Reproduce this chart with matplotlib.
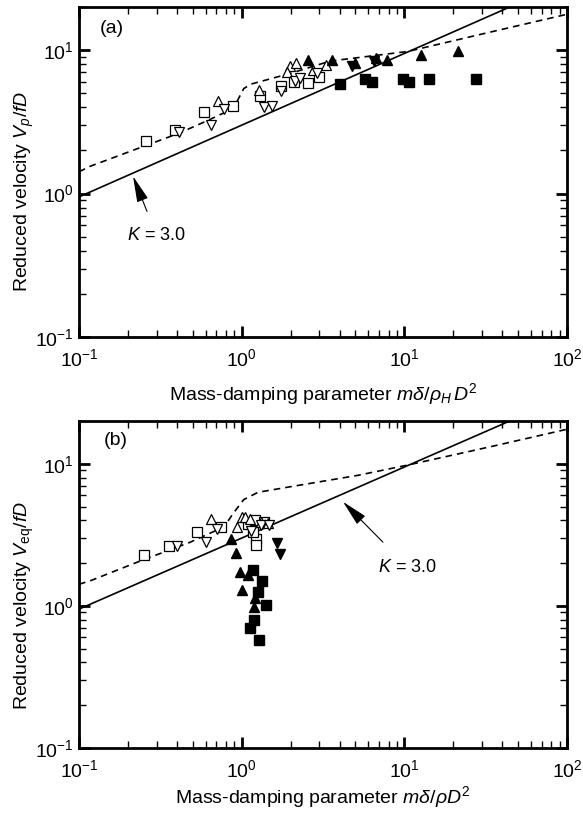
import matplotlib.pyplot as plt
import numpy as np

plt.rcParams['font.family'] = ['Liberation Sans', 'DejaVu Sans']
plt.rcParams['mathtext.fontset'] = 'custom'
plt.rcParams['mathtext.rm'] = 'Liberation Sans'
plt.rcParams['mathtext.it'] = 'Liberation Sans:italic'
plt.rcParams['axes.unicode_minus'] = False

# dashed curve (same shape in both panels)
dash_x_a = [0.1, 0.117, 0.248, 0.41, 0.62, 0.89, 1.03, 1.14, 2.0, 3.5, 10.5, 35, 100]
dash_y_a = [1.42, 1.55, 2.13, 2.63, 3.24, 3.93, 5.4, 5.8, 6.9, 8.4, 9.8, 13.5, 17.8]
dash_x_b = [0.1, 0.117, 0.238, 0.48, 0.78, 0.89, 1.03, 1.26, 2.0, 5.2, 10.5, 35, 100]
dash_y_b = [1.42, 1.5, 2.07, 2.8, 3.6, 4.5, 5.6, 6.3, 6.9, 8.3, 9.8, 13.3, 17.5]

K = 3.0

# panel (a) data
a_osq_x = [0.26, 0.39, 0.59, 0.88, 1.29, 1.74, 2.09, 2.55, 3.0]
a_osq_y = [2.31, 2.76, 3.68, 4.1, 4.8, 5.6, 5.97, 5.9, 6.5]
a_otu_x = [0.72, 1.27, 1.98, 2.15, 1.91, 2.76, 3.3]
a_otu_y = [4.4, 5.25, 7.7, 8.2, 7.1, 7.25, 7.9]
a_otd_x = [0.41, 0.65, 0.78, 1.37, 1.53, 1.74, 2.12, 2.29, 2.9]
a_otd_y = [2.7, 3.0, 3.9, 4.0, 4.1, 5.2, 6.1, 6.4, 6.9]
a_ftu_x = [2.55, 3.6, 5.0, 6.7, 7.8, 12.7, 21.4]
a_ftu_y = [8.5, 8.5, 8.1, 8.8, 8.5, 9.2, 9.8]
a_ftd_x = [4.8, 6.5]
a_ftd_y = [7.7, 8.4]
a_fsq_x = [4.0, 5.75, 6.3, 9.8, 10.7, 14.1, 27.6]
a_fsq_y = [5.8, 6.3, 6.0, 6.3, 6.0, 6.3, 6.3]

# panel (b) data
b_osq_x = [0.25, 0.36, 0.53, 0.75, 1.10, 1.2, 1.37, 1.22, 1.22, 1.17]
b_osq_y = [2.27, 2.63, 3.3, 3.6, 3.75, 4.0, 3.9, 2.94, 2.7, 3.3]
b_otu_x = [0.65, 0.94, 1.0, 1.05, 1.12, 1.31, 1.45]
b_otu_y = [4.06, 3.6, 4.2, 4.2, 4.1, 3.9, 3.85]
b_otd_x = [0.40, 0.60, 0.71, 1.14, 1.31, 1.48]
b_otd_y = [2.63, 2.8, 3.5, 3.35, 3.7, 3.7]
b_ftu_x = [0.86, 0.92, 0.97, 1.09, 1.01, 1.2, 1.19]
b_ftu_y = [2.94, 2.35, 1.73, 1.65, 1.29, 1.14, 0.98]
b_ftd_x = [1.64, 1.72]
b_ftd_y = [2.76, 2.3]
b_fsq_x = [1.17, 1.33, 1.26, 1.41, 1.19, 1.12, 1.27]
b_fsq_y = [1.78, 1.5, 1.25, 1.02, 0.80, 0.70, 0.58]

fig = plt.figure(figsize=(5.83, 8.18), dpi=100)
ax1 = fig.add_axes([0.1355, 0.588, 0.837, 0.4034])
ax2 = fig.add_axes([0.1355, 0.0856, 0.837, 0.3997])


def draw(ax, dx, dy, osq, otu, otd, ftu, ftd, fsq):
    kx = np.logspace(-1, 2, 200)
    ax.plot(kx, K * np.sqrt(kx), color='black', lw=1.2, zorder=2)
    ax.plot(dx, dy, color='black', lw=1.2, ls=(0, (4, 3)), zorder=2)
    ms = 6.5
    ax.plot(*osq, ls='none', marker='s', ms=ms, mfc='white', mec='black', mew=0.9, zorder=3)
    ax.plot(*otu, ls='none', marker='^', ms=ms, mfc='white', mec='black', mew=0.9, zorder=3)
    ax.plot(*otd, ls='none', marker='v', ms=ms, mfc='white', mec='black', mew=0.9, zorder=3)
    ax.plot(*ftu, ls='none', marker='^', ms=ms, mfc='black', mec='black', zorder=4)
    ax.plot(*ftd, ls='none', marker='v', ms=ms, mfc='black', mec='black', zorder=4)
    ax.plot(*fsq, ls='none', marker='s', ms=ms, mfc='black', mec='black', zorder=4)
    ax.set_xscale('log')
    ax.set_yscale('log')
    ax.set_xlim(0.1, 100)
    ax.set_ylim(0.1, 20)
    ax.tick_params(which='both', direction='in', top=True, right=True, labelsize=14)
    ax.tick_params(which='major', length=8, width=2)
    ax.tick_params(which='minor', length=5, width=1)
    ax.tick_params(axis='x', pad=8)
    for s in ax.spines.values():
        s.set_linewidth(2)


draw(ax1, dash_x_a, dash_y_a, (a_osq_x, a_osq_y), (a_otu_x, a_otu_y), (a_otd_x, a_otd_y),
     (a_ftu_x, a_ftu_y), (a_ftd_x, a_ftd_y), (a_fsq_x, a_fsq_y))
draw(ax2, dash_x_b, dash_y_b, (b_osq_x, b_osq_y), (b_otu_x, b_otu_y), (b_otd_x, b_otd_y),
     (b_ftu_x, b_ftu_y), (b_ftd_x, b_ftd_y), (b_fsq_x, b_fsq_y))

ax1.text(0.043, 0.936, '(a)', transform=ax1.transAxes, fontsize=14, va='center')
ax2.text(0.05, 0.94, '(b)', transform=ax2.transAxes, fontsize=14, va='center')

arrow = dict(arrowstyle='-|>,head_length=0.9,head_width=0.2', color='black', lw=0.8,
             mutation_scale=18, shrinkB=0)
ax1.annotate('$K$ = 3.0', xy=(0.215, 1.32), xytext=(0.30, 0.51), fontsize=13,
             ha='center', va='center', arrowprops=dict(arrow, shrinkA=10))
ax2.annotate('$K$ = 3.0', xy=(4.2, 5.4), xytext=(10.5, 1.87), fontsize=13,
             ha='center', va='center', arrowprops=dict(arrow, shrinkA=14))

ax1.set_xlabel(r'Mass-damping parameter $m\delta/\rho_H\,D^2$', fontsize=14, labelpad=8)
ax1.set_ylabel(r'Reduced velocity $V_p/fD$', fontsize=14)
ax2.set_xlabel(r'Mass-damping parameter $m\delta/\rho D^2$', fontsize=14, labelpad=2)
ax2.set_ylabel(r'Reduced velocity $V_{\mathrm{eq}}/fD$', fontsize=14)
ax1.yaxis.set_label_coords(-0.088, 0.44)
ax2.yaxis.set_label_coords(-0.088, 0.437)

fig.savefig('out.png', dpi=100)
